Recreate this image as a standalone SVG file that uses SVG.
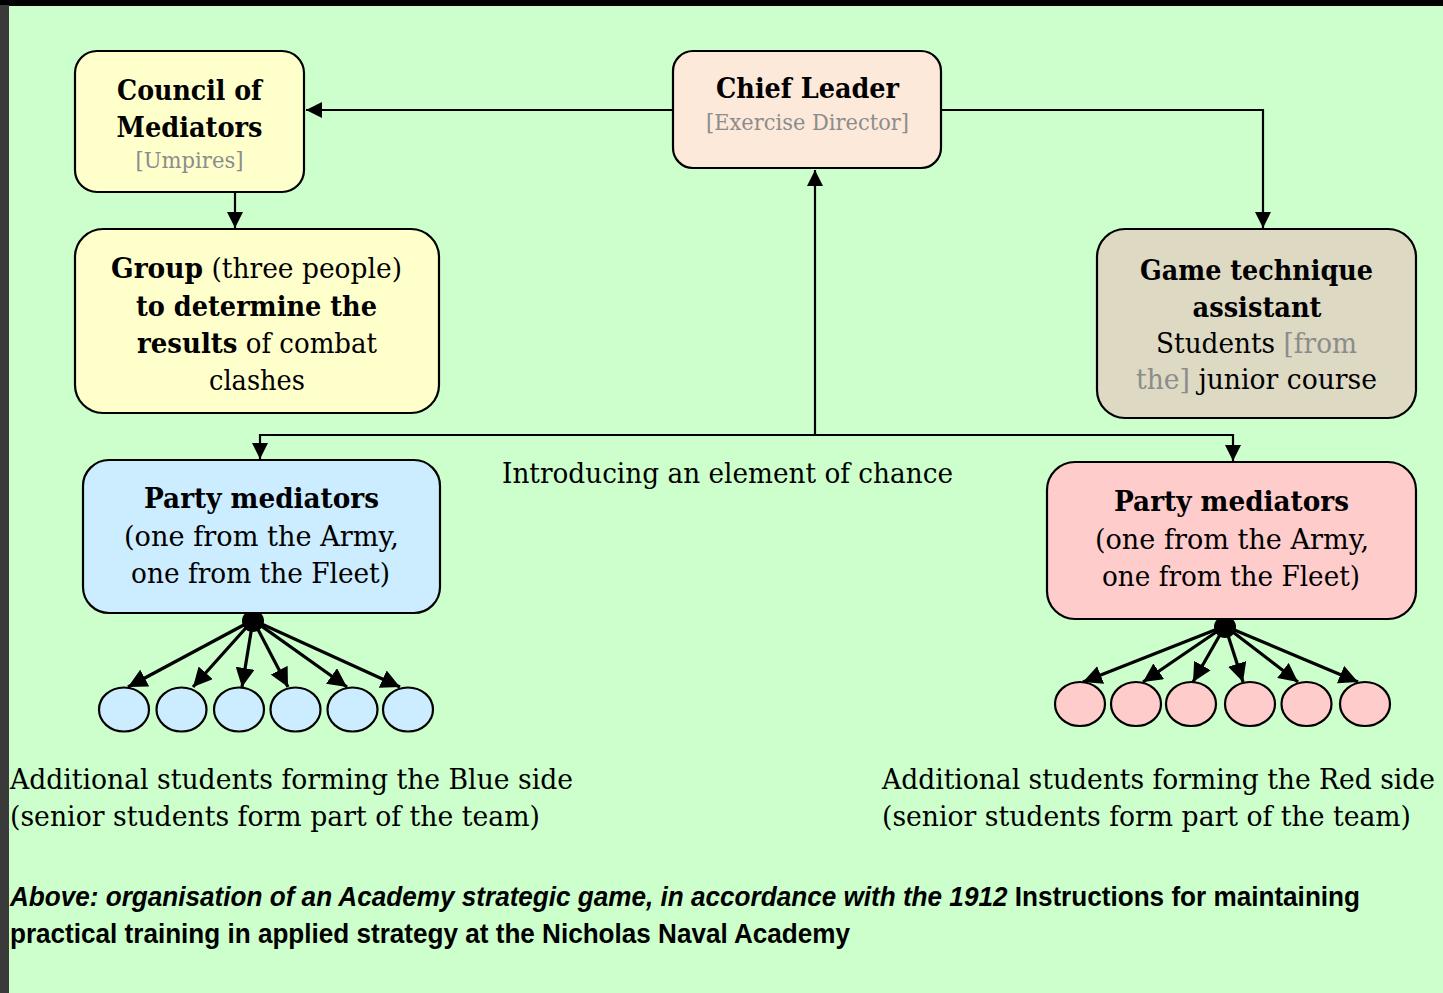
<svg xmlns="http://www.w3.org/2000/svg" width="1443" height="993" viewBox="0 0 1443 993">
<defs>
<style>
.box{stroke:#000;stroke-width:2.2}
.t{font-family:"DejaVu Serif","Liberation Serif",serif;font-size:28px;fill:#000;text-anchor:middle}
.b{font-weight:bold}
.g{fill:#8c8c8c}
.sm{font-size:22px}
.lt{font-family:"DejaVu Serif","Liberation Serif",serif;font-size:28px;fill:#000}
.cap{font-family:"Liberation Sans",Arial,sans-serif;font-size:28px;font-weight:bold;fill:#000}
.con{fill:none;stroke:#000;stroke-width:2.2}
.fan{fill:none;stroke:#000;stroke-width:3.2}
</style>
<marker id="ah" viewBox="0 0 10 10" refX="10" refY="5" markerWidth="16" markerHeight="16" markerUnits="userSpaceOnUse" orient="auto"><path d="M0,0 L10,5 L0,10 z" fill="#000"/></marker>
<marker id="fh" viewBox="0 0 10 10" refX="10" refY="5" markerWidth="19" markerHeight="19" markerUnits="userSpaceOnUse" orient="auto"><path d="M0,0 L10,5 L0,10 z" fill="#000"/></marker>
</defs>
<rect x="0" y="0" width="1443" height="993" fill="#000"/>
<rect x="0" y="5" width="9" height="988" fill="#3a3a3a"/>
<rect x="9" y="6" width="1434" height="987" fill="#CCFFCC"/>

<g id="connectors">
<path class="con" d="M673,110 H306" marker-end="url(#ah)"/>
<path class="con" d="M941,110 H1263 V228" marker-end="url(#ah)"/>
<path class="con" d="M235,192 V228" marker-end="url(#ah)"/>
<path class="con" d="M815,435 V170" marker-end="url(#ah)"/>
<path class="con" d="M815,435 H260 V459" marker-end="url(#ah)"/>
<path class="con" d="M815,435 H1233 V461" marker-end="url(#ah)"/>
<g id="blue-fan">
<circle cx="253" cy="621" r="11" fill="#000"/>
<path class="fan" d="M253,620 L128,687" marker-end="url(#fh)"/>
<path class="fan" d="M253,620 L193,687" marker-end="url(#fh)"/>
<path class="fan" d="M253,620 L242,687" marker-end="url(#fh)"/>
<path class="fan" d="M253,620 L288,687" marker-end="url(#fh)"/>
<path class="fan" d="M253,620 L347,687" marker-end="url(#fh)"/>
<path class="fan" d="M253,620 L400,687" marker-end="url(#fh)"/>
</g>
<g id="red-fan">
<circle cx="1225" cy="627" r="11" fill="#000"/>
<path class="fan" d="M1225,626 L1083,682" marker-end="url(#fh)"/>
<path class="fan" d="M1225,626 L1143,682" marker-end="url(#fh)"/>
<path class="fan" d="M1225,626 L1193,682" marker-end="url(#fh)"/>
<path class="fan" d="M1225,626 L1243,682" marker-end="url(#fh)"/>
<path class="fan" d="M1225,626 L1298,682" marker-end="url(#fh)"/>
<path class="fan" d="M1225,626 L1358,682" marker-end="url(#fh)"/>
</g>
</g>

<g id="council">
<rect class="box" x="75" y="51" width="229" height="141" rx="22" fill="#FFFFCC"/>
<text class="t b" x="189.5" y="100" textLength="145" lengthAdjust="spacingAndGlyphs">Council of</text>
<text class="t b" x="189.5" y="137" textLength="146" lengthAdjust="spacingAndGlyphs">Mediators</text>
<text class="t g sm" x="189.5" y="168" textLength="108" lengthAdjust="spacingAndGlyphs">[Umpires]</text>
</g>

<g id="chief">
<rect class="box" x="673" y="51" width="268" height="117" rx="20" fill="#FDE9D9"/>
<text class="t b" x="807.5" y="98" textLength="183" lengthAdjust="spacingAndGlyphs">Chief Leader</text>
<text class="t g sm" x="807.5" y="130" textLength="203" lengthAdjust="spacingAndGlyphs">[Exercise Director]</text>
</g>

<g id="group">
<rect class="box" x="75" y="229" width="364" height="184" rx="28" fill="#FFFFCC"/>
<text class="t" x="256.5" y="278" textLength="291" lengthAdjust="spacingAndGlyphs"><tspan class="b">Group</tspan> (three people)</text>
<text class="t b" x="256.5" y="316" textLength="241" lengthAdjust="spacingAndGlyphs">to determine the</text>
<text class="t" x="257" y="353" textLength="240" lengthAdjust="spacingAndGlyphs"><tspan class="b">results</tspan> of combat</text>
<text class="t" x="257" y="390" textLength="96" lengthAdjust="spacingAndGlyphs">clashes</text>
</g>

<g id="assistant">
<rect class="box" x="1097" y="229" width="319" height="189" rx="28" fill="#DDD9C3"/>
<text class="t b" x="1256.5" y="280" textLength="233" lengthAdjust="spacingAndGlyphs">Game technique</text>
<text class="t b" x="1257" y="317" textLength="129" lengthAdjust="spacingAndGlyphs">assistant</text>
<text class="t" x="1256.5" y="353" textLength="201" lengthAdjust="spacingAndGlyphs">Students <tspan class="g">[from</tspan></text>
<text class="t" x="1256.5" y="389" textLength="241" lengthAdjust="spacingAndGlyphs"><tspan class="g">the]</tspan> junior course</text>
</g>

<g id="blue-mediators">
<rect class="box" x="83" y="460" width="357" height="153" rx="26" fill="#CCECFF"/>
<text class="t b" x="261.5" y="508" textLength="235" lengthAdjust="spacingAndGlyphs">Party mediators</text>
<text class="t" x="261.5" y="546" textLength="275" lengthAdjust="spacingAndGlyphs">(one from the Army,</text>
<text class="t" x="260.5" y="583" textLength="259" lengthAdjust="spacingAndGlyphs">one from the Fleet)</text>
</g>

<g id="red-mediators">
<rect class="box" x="1047" y="462" width="369" height="157" rx="28" fill="#FFCCCC"/>
<text class="t b" x="1231.5" y="511" textLength="235" lengthAdjust="spacingAndGlyphs">Party mediators</text>
<text class="t" x="1232" y="549" textLength="274" lengthAdjust="spacingAndGlyphs">(one from the Army,</text>
<text class="t" x="1231" y="586" textLength="258" lengthAdjust="spacingAndGlyphs">one from the Fleet)</text>
</g>

<g id="blue-students">
<ellipse class="box" cx="124" cy="709.5" rx="25" ry="22" fill="#CCECFF"/>
<ellipse class="box" cx="181.5" cy="709.5" rx="25" ry="22" fill="#CCECFF"/>
<ellipse class="box" cx="239" cy="709.5" rx="25" ry="22" fill="#CCECFF"/>
<ellipse class="box" cx="295.5" cy="709.5" rx="25" ry="22" fill="#CCECFF"/>
<ellipse class="box" cx="352.5" cy="709.5" rx="25" ry="22" fill="#CCECFF"/>
<ellipse class="box" cx="408" cy="709.5" rx="25" ry="22" fill="#CCECFF"/>
</g>

<g id="red-students">
<ellipse class="box" cx="1080" cy="704" rx="25" ry="22" fill="#FFCCCC"/>
<ellipse class="box" cx="1136" cy="704" rx="25" ry="22" fill="#FFCCCC"/>
<ellipse class="box" cx="1191" cy="704" rx="25" ry="22" fill="#FFCCCC"/>
<ellipse class="box" cx="1250" cy="704" rx="25" ry="22" fill="#FFCCCC"/>
<ellipse class="box" cx="1306.5" cy="704" rx="25" ry="22" fill="#FFCCCC"/>
<ellipse class="box" cx="1365" cy="704" rx="25" ry="22" fill="#FFCCCC"/>
</g>

<g id="labels">
<text class="lt" x="502" y="483" textLength="451" lengthAdjust="spacingAndGlyphs">Introducing an element of chance</text>
<text class="lt" x="10" y="789" textLength="563" lengthAdjust="spacingAndGlyphs">Additional students forming the Blue side</text>
<text class="lt" x="10" y="826" textLength="530" lengthAdjust="spacingAndGlyphs">(senior students form part of the team)</text>
<text class="lt" x="882" y="789" textLength="553" lengthAdjust="spacingAndGlyphs">Additional students forming the Red side</text>
<text class="lt" x="882" y="826" textLength="529" lengthAdjust="spacingAndGlyphs">(senior students form part of the team)</text>
</g>

<g id="caption">
<text class="cap" x="10" y="906" textLength="1350" lengthAdjust="spacingAndGlyphs"><tspan font-style="italic">Above: organisation of an Academy strategic game, in accordance with the 1912</tspan> Instructions for maintaining</text>
<text class="cap" x="10" y="943" textLength="840" lengthAdjust="spacingAndGlyphs">practical training in applied strategy at the Nicholas Naval Academy</text>
</g>
</svg>
